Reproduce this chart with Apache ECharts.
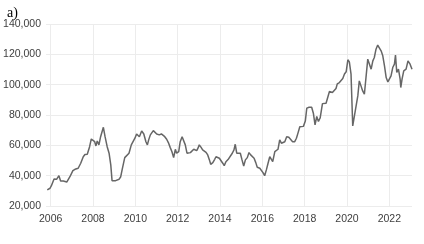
<!DOCTYPE html>
<html>
<head>
<meta charset="utf-8">
<style>
html,body{margin:0;padding:0;background:#fff;}
#c{width:424px;height:244px;}
</style>
<script src="https://cdn.jsdelivr.net/npm/echarts@6/dist/echarts.min.js"></script>
</head>
<body>
<div id="c"></div>
<script>
const years = [
2005.84,2005.97,2006.03,2006.16,2006.28,2006.34,2006.39,2006.47,2006.60,2006.68,2006.76,2006.82,2006.91,
2007.05,2007.15,2007.23,2007.30,2007.42,2007.54,2007.62,2007.73,2007.78,2007.84,2007.92,
2008.01,2008.08,2008.14,2008.20,2008.28,2008.36,2008.49,2008.57,2008.67,2008.76,2008.84,2008.90,2008.99,
2009.07,2009.15,2009.23,2009.31,2009.38,2009.50,2009.59,2009.70,2009.81,2009.90,2009.98,
2010.06,2010.13,2010.19,2010.30,2010.40,2010.50,2010.57,2010.63,2010.71,2010.79,2010.85,2010.94,
2011.01,2011.07,2011.13,2011.23,2011.29,2011.39,2011.48,2011.56,2011.65,2011.73,2011.81,2011.89,2011.95,
2012.05,2012.12,2012.21,2012.29,2012.36,2012.44,2012.52,2012.60,2012.68,2012.76,2012.82,2012.90,2012.96,
2013.02,2013.10,2013.18,2013.26,2013.34,2013.42,2013.50,2013.56,2013.66,2013.75,2013.81,2013.89,2013.97,
2014.05,2014.13,2014.20,2014.28,2014.38,2014.47,2014.58,2014.66,2014.72,2014.79,2014.88,2014.96,
2015.04,2015.12,2015.20,2015.29,2015.37,2015.45,2015.53,2015.61,2015.69,2015.76,2015.88,2015.95,
2016.03,2016.11,2016.19,2016.27,2016.35,2016.43,2016.49,2016.59,2016.66,2016.74,2016.82,2016.90,2016.98,
2017.06,2017.15,2017.25,2017.34,2017.43,2017.53,2017.61,2017.69,2017.77,2017.84,2017.94,
2018.03,2018.10,2018.21,2018.33,2018.41,2018.49,2018.57,2018.65,2018.73,2018.84,2018.93,
2019.01,2019.09,2019.17,2019.31,2019.40,2019.48,2019.54,2019.64,2019.72,2019.80,2019.88,2019.96,
2020.04,2020.11,2020.19,2020.27,2020.35,2020.43,2020.51,2020.58,2020.66,2020.74,2020.82,2020.90,2020.98,
2021.06,2021.14,2021.22,2021.29,2021.37,2021.45,2021.53,2021.61,2021.69,2021.77,2021.85,2021.93,
2022.00,2022.08,2022.16,2022.24,2022.29,2022.35,2022.43,2022.51,2022.54,2022.60,2022.68,2022.79,2022.88,2022.98,2023.07
];
const values = [
30600,31700,33200,37800,37600,38000,40000,36500,36500,36300,35800,36500,39300,
43300,44200,43800,44900,48200,52500,53900,54100,54800,59100,64200,
63600,62400,59600,62900,60300,65700,71900,65700,59100,54800,47100,36700,36000,
36700,38000,37600,39300,44200,51900,51500,54800,60300,61400,64700,
67500,68000,65700,69500,67500,62400,60300,63600,66900,68000,69700,69000,
67500,68400,66900,67500,68000,65700,64000,61800,58500,55800,51900,57400,54800,
55800,62400,65700,64700,60300,54800,54100,55200,55800,57400,58500,56500,58100,
60300,58800,57000,56300,55400,53700,50400,47500,48600,50800,52500,53700,51500,
50800,48200,46600,49200,50600,50400,54800,57000,60700,54800,54100,54800,
50400,46400,50400,51900,55200,53700,53700,51500,48600,45500,44900,44200,
42000,40000,43800,48200,52500,53700,49200,55800,57000,57400,63600,61400,60300,
62400,65700,65300,64700,62400,62400,64700,68400,72300,73500,72500,
76000,84500,85100,85100,81200,73500,79000,75700,78000,87500,88600,
87800,88000,95500,94800,96000,97500,100500,101400,101000,104000,107000,108500,
116400,115000,106900,72800,79400,86000,92600,102500,99200,95900,93700,93700,116800,
115700,110200,115700,117900,123400,126100,126700,122300,119000,112400,104700,101800,
101400,105800,111300,113500,119500,108000,110200,103600,98100,103600,109100,110200,115700,113500,110200
];
const yearTicks = [2006,2008,2010,2012,2014,2016,2018,2020,2022];
const yMin = 20000, yMax = 140000, yStep = 20000;

const chart = echarts.init(document.getElementById('c'), null, {renderer:'canvas'});
const labelFont = {fontFamily:'"Liberation Sans", Arial, sans-serif', fontSize:10.5, color:'#404040'};
chart.setOption({
  animation:false,
  title:{text:'a)', left:2, top:1, textStyle:{fontFamily:'"Liberation Serif","Times New Roman",serif', fontSize:14, fontWeight:'normal', color:'#000'}},
  grid:{left:46, right:12, top:24, bottom:38, containLabel:false},
  xAxis:{
    type:'value', min:2005.78, max:2023.07,
    axisLine:{show:false},
    axisTick:{show:false, customValues:yearTicks},
    axisLabel:Object.assign({customValues:yearTicks, margin:8, formatter:v=>String(v)}, labelFont),
    splitLine:{show:true, lineStyle:{color:'#ececec', width:1}}
  },
  yAxis:{
    type:'value', min:yMin, max:yMax, interval:yStep,
    axisLine:{show:false}, axisTick:{show:false},
    axisLabel:Object.assign({margin:5, formatter:v=>v.toLocaleString('en-US')}, labelFont),
    splitLine:{show:true, lineStyle:{color:'#ececec', width:1}}
  },
  series:[{
    type:'line',
    data:years.map((y,i)=>[y,values[i]]),
    showSymbol:false,
    lineStyle:{color:'#666666', width:1.5},
    silent:true
  }]
});
</script>
</body>
</html>
